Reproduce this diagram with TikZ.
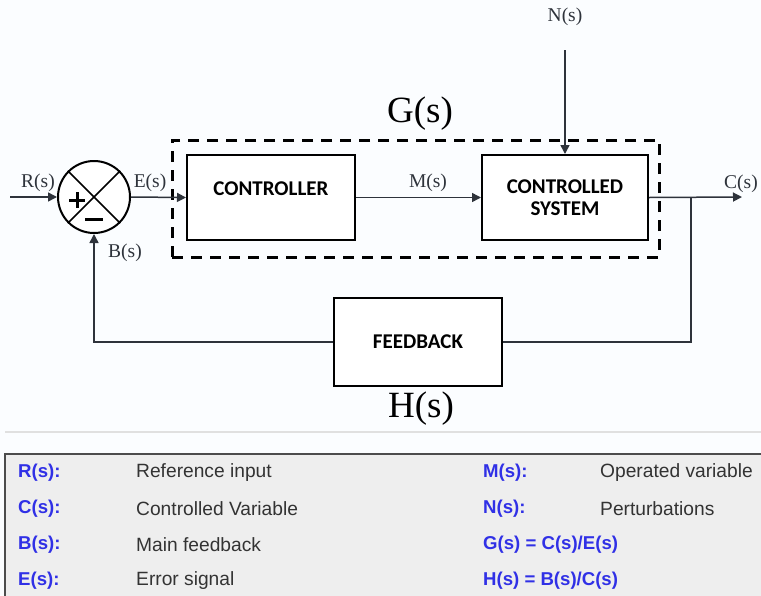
\documentclass[tikz,border=0pt]{standalone}
\usepackage{fontspec}
\setmainfont{Liberation Serif}
\newfontfamily\boxfont{Carlito}
\newfontfamily\legfont{Liberation Sans}
\usetikzlibrary{arrows.meta}
\definecolor{legblue}{HTML}{3030E6}
\definecolor{legtext}{HTML}{333333}
\definecolor{leggray}{HTML}{EEEEEE}
\definecolor{lineclr}{HTML}{2E333B}
\definecolor{bgclr}{HTML}{FBFDFF}
\tikzset{
  blk/.style={draw=black, line width=2pt, fill=white, font=\boxfont\bfseries\fontsize{21}{23}\selectfont, align=center, inner sep=0pt},
  conn/.style={draw=lineclr, line width=1.5pt},
  arr/.style={conn, -{Triangle[length=9pt,width=9pt]}},
  sig/.style={font=\fontsize{19.5}{22}\selectfont, text=lineclr, inner sep=0pt},
  big/.style={font=\fontsize{37}{40}\selectfont, text=black, inner sep=0pt},
  gdash/.style={draw=black, line width=3pt, dash pattern=on 11pt off 8pt},
  lkey/.style={font=\legfont\bfseries\fontsize{18.6}{21}\selectfont, text=legblue, anchor=west, inner sep=0pt},
  ldesc/.style={font=\legfont\fontsize{19.2}{21}\selectfont, text=legtext, anchor=west, inner sep=0pt},
}
\begin{document}
\begin{tikzpicture}[x=1pt,y=-1pt]
\useasboundingbox (0,0) rectangle (761,595);
\fill[bgclr] (0,0) rectangle (761,595);

% G(s) dashed frame
\node[gdash, minimum width=487pt, minimum height=117pt, inner sep=0pt] (gbox) at (415.5,198.5) {};

% blocks
\node[blk, minimum width=168pt, minimum height=85pt] (ctrl) at (271,197.5) {\raisebox{18pt}{CONTROLLER}};
\node[blk, minimum width=166pt, minimum height=85pt] (sys) at (565,197.5) {CONTROLLED\\[-1pt]SYSTEM};
\node[blk, minimum width=168pt, minimum height=88pt] (fb) at (418,342) {FEEDBACK};

% summing junction
\node[draw=black, line width=2pt, circle, minimum size=72pt, inner sep=0pt, fill=white] (sum) at (94,197) {};
\draw[line width=1.6pt] (sum.north west) -- (sum.south east);
\draw[line width=1.6pt] (sum.north east) -- (sum.south west);
\draw[line width=3pt] (69,200) -- (85,200) (77,192) -- (77,208);
\draw[line width=3pt] (85,219) -- (103,219);

% coordinates
\coordinate (rin) at (10,197);
\coordinate (cout) at (742,197);
\coordinate (br) at (691,197);
\coordinate (nin) at (565,50);

% connectors
\draw[arr] (rin) -- (sum.west);
\draw[arr] (sum.east) -- (ctrl.west);
\draw[arr] (ctrl.east) -- (sys.west);
\draw[arr] (sys.east) -- (cout);
\draw[conn] (br) |- (fb.east);
\draw[arr] (fb.west) -| (sum.south);
\draw[arr] (nin) -- (sys.north);

% signal labels
\node[sig] (lr) at (38,183) {R(s)};
\node[sig] (le) at (150,183) {E(s)};
\node[sig] (lb) at (125,253) {B(s)};
\node[sig] (lm) at (428,183) {M(s)};
\node[sig] (lc) at (741,184) {C(s)};
\node[sig] (ln) at (565,17) {N(s)};
\node[big] (lg) at (420,114) {G(s)};
\node[big] (lh) at (421,409) {H(s)};

% separator and legend
\draw[black!12, line width=1.5pt] (5,432) -- (761,432);
\draw[fill=leggray, draw=black!70, line width=1.5pt] (5,454) rectangle (775,610);

\node[lkey] (k1) at (18,473) {R(s):};
\node[lkey] (k2) at (18,509) {C(s):};
\node[lkey] (k3) at (18,545) {B(s):};
\node[lkey] (k4) at (18,581) {E(s):};
\node[ldesc] (d1) at (136,473) {Reference input};
\node[ldesc] (d2) at (136,509) {Controlled Variable};
\node[ldesc] (d3) at (136,545) {Main feedback};
\node[ldesc] (d4) at (136,581) {Error signal};
\node[lkey] (k5) at (483,473) {M(s):};
\node[lkey] (k6) at (483,509) {N(s):};
\node[lkey] (k7) at (483,545) {G(s) = C(s)/E(s)};
\node[lkey] (k8) at (483,581) {H(s) = B(s)/C(s)};
\node[ldesc] (d5) at (600,473) {Operated variable};
\node[ldesc] (d6) at (600,509) {Perturbations};
\end{tikzpicture}
\end{document}
